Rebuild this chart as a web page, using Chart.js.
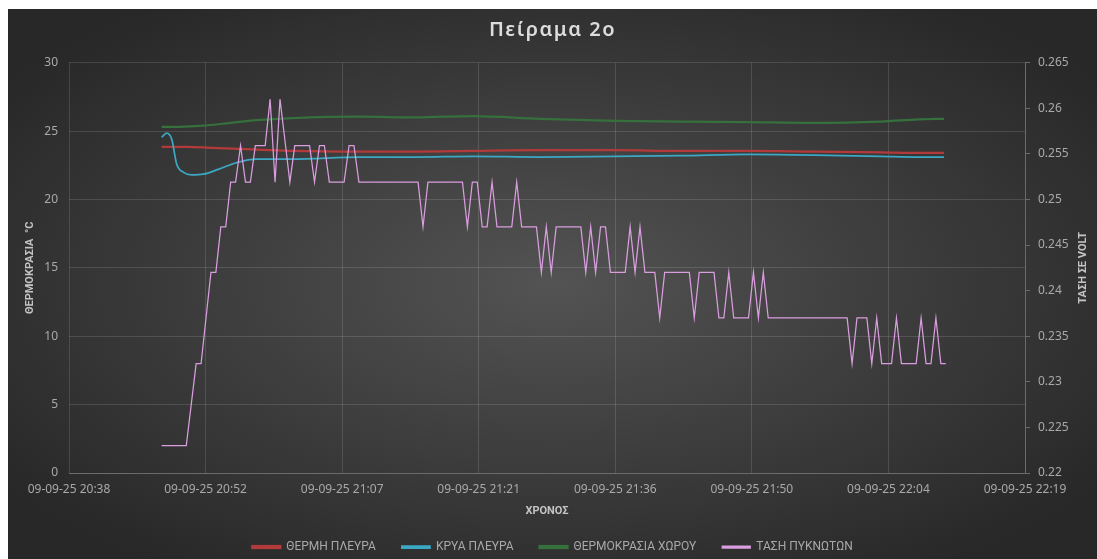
<!DOCTYPE html>
<html>
<head>
<meta charset="utf-8">
<script src="https://cdn.jsdelivr.net/npm/chart.js@4.4.1/dist/chart.umd.min.js"></script>
<style>
  html, body { margin: 0; padding: 0; background: #fff; }
  #wrap { position: absolute; left: 8px; top: 9px; width: 1089px; height: 550px; }
</style>
</head>
<body>
<div id="wrap"><canvas id="peirama2"></canvas></div>
<script>
var chartTitle = 'Πείραμα 2ο';
var dateLabel = '09-09-25';
var xTitle = 'ΧΡΟΝΟΣ';
var leftTitle = 'ΘΕΡΜΟΚΡΑΣΙΑ  °C';
var rightTitle = 'ΤΑΣΗ ΣΕ VOLT';
var seriesNames = ['ΘΕΡΜΗ ΠΛΕΥΡΑ', 'ΚΡΥΑ ΠΛΕΥΡΑ', 'ΘΕΡΜΟΚΡΑΣΙΑ ΧΩΡΟΥ', 'ΤΑΣΗ ΠΥΚΝΩΤΩΝ'];

// axis ticks
var xTicks = ['20:38:24', '20:52:48', '21:07:12', '21:21:36', '21:36:00', '21:50:24', '22:04:48', '22:19:12'];
var leftTicks = [0, 5, 10, 15, 20, 25, 30];
var rightTicks = [0.22, 0.225, 0.23, 0.235, 0.24, 0.245, 0.25, 0.255, 0.26, 0.265];

// temperatures (left axis)
var tempTimes = ['20:48:10', '20:48:42', '20:49:14', '20:49:45', '20:50:27', '20:51:20', '20:52:34', '20:54:08',
                 '20:56:05', '20:58:11', '21:02:01', '21:09:05', '21:15:00', '21:21:00', '21:28:00', '21:36:00',
                 '21:43:00', '21:50:00', '21:57:00', '22:04:00', '22:08:00', '22:10:40'];
var hotSide  = [23.85, 23.85, 23.85, 23.85, 23.85, 23.83, 23.8, 23.75, 23.7, 23.65, 23.55, 23.5, 23.5, 23.55,
                23.6, 23.6, 23.55, 23.55, 23.5, 23.45, 23.4, 23.4];
var coldSide = [24.55, 24.85, 24.4, 22.6, 22.0, 21.8, 21.85, 22.2, 22.7, 22.95, 22.95, 23.1, 23.1, 23.15,
                23.1, 23.15, 23.2, 23.3, 23.25, 23.15, 23.1, 23.1];
var roomTemp = [25.3, 25.3, 25.3, 25.3, 25.32, 25.35, 25.4, 25.5, 25.65, 25.8, 25.95, 26.05, 26.0, 26.1,
                25.9, 25.75, 25.7, 25.65, 25.6, 25.7, 25.85, 25.9];

// capacitor voltage (right axis), one reading every voltStepSec seconds
var voltStart = '20:48:10';
var voltStepSec = 31.2;
var voltage = [
  0.223, 0.223, 0.223, 0.223, 0.223, 0.223, 0.2275, 0.232, 0.232, 0.237,
  0.242, 0.242, 0.247, 0.247, 0.2519, 0.2519, 0.2559, 0.2519, 0.2519, 0.2559,
  0.2559, 0.2559, 0.261, 0.2519, 0.261, 0.2565, 0.2519, 0.2559, 0.2559, 0.2559,
  0.2559, 0.2519, 0.2559, 0.2559, 0.2519, 0.2519, 0.2519, 0.2519, 0.2559, 0.2559,
  0.2519, 0.2519, 0.2519, 0.2519, 0.2519, 0.2519, 0.2519, 0.2519, 0.2519, 0.2519,
  0.2519, 0.2519, 0.2519, 0.247, 0.2519, 0.2519, 0.2519, 0.2519, 0.2519, 0.2519,
  0.2519, 0.2519, 0.247, 0.2519, 0.2519, 0.247, 0.247, 0.2519, 0.247, 0.247,
  0.247, 0.247, 0.2519, 0.247, 0.247, 0.247, 0.247, 0.242, 0.247, 0.242,
  0.247, 0.247, 0.247, 0.247, 0.247, 0.247, 0.242, 0.247, 0.242, 0.247,
  0.247, 0.242, 0.242, 0.242, 0.242, 0.247, 0.242, 0.247, 0.242, 0.242,
  0.242, 0.237, 0.242, 0.242, 0.242, 0.242, 0.242, 0.242, 0.237, 0.242,
  0.242, 0.242, 0.242, 0.237, 0.237, 0.242, 0.237, 0.237, 0.237, 0.237,
  0.242, 0.237, 0.242, 0.237, 0.237, 0.237, 0.237, 0.237, 0.237, 0.237,
  0.237, 0.237, 0.237, 0.237, 0.237, 0.237, 0.237, 0.237, 0.237, 0.237,
  0.232, 0.237, 0.237, 0.237, 0.232, 0.237, 0.232, 0.232, 0.232, 0.237,
  0.232, 0.232, 0.232, 0.232, 0.237, 0.232, 0.232, 0.237, 0.232, 0.232
];

function toMin(t) {
  var p = t.split(':');
  return +p[0] * 60 + +p[1] + (+p[2] || 0) / 60;
}
function pts(times, vals) {
  return vals.map(function (v, i) { return { x: times[i], y: v }; });
}
var tempX = tempTimes.map(toMin);
var voltX = voltage.map(function (v, i) { return toMin(voltStart) + i * voltStepSec / 60; });

var tickColor = '#a9a9a9';
var gridColor = 'rgba(255,255,255,0.13)';

var bgPlugin = {
  id: 'bg',
  beforeDraw: function (chart) {
    var ctx = chart.ctx, w = chart.width, h = chart.height;
    ctx.save();
    ctx.translate(w / 2, h / 2);
    ctx.scale(1, h / w);
    var g = ctx.createRadialGradient(0, 0, 0, 0, 0, w * 0.62);
    g.addColorStop(0, '#535353');
    g.addColorStop(1, '#282828');
    ctx.fillStyle = g;
    ctx.fillRect(-w, -w, 2 * w, 2 * w);
    ctx.restore();
  },
  afterDraw: function (chart) {
    var ctx = chart.ctx, a = chart.chartArea;
    ctx.save();
    ctx.fillStyle = '#dcdcdc';
    ctx.font = '600 20px "Noto Sans"';
    ctx.letterSpacing = '1.5px';
    ctx.textAlign = 'center';
    ctx.textBaseline = 'middle';
    ctx.fillText(chartTitle, chart.width / 2, 21);
    ctx.letterSpacing = '0px';
    ctx.translate(1075, (a.top + a.bottom) / 2);
    ctx.rotate(-Math.PI / 2);
    ctx.fillStyle = '#c4c4c4';
    ctx.font = 'bold 11px Roboto';
    ctx.fillText(rightTitle, 0, 0);
    ctx.restore();
  }
};

var ctx = document.getElementById('peirama2').getContext('2d');
var chart = new Chart(ctx, {
  type: 'line',
  data: {
    datasets: [
      { label: seriesNames[0], data: pts(tempX, hotSide), yAxisID: 'y', borderColor: '#b33a3a', backgroundColor: '#b33a3a',
        borderWidth: 2.25, tension: 0.4, cubicInterpolationMode: 'monotone', order: 3 },
      { label: seriesNames[1], data: pts(tempX, coldSide), yAxisID: 'y', borderColor: '#3ba8c4', backgroundColor: '#3ba8c4',
        borderWidth: 1.75, tension: 0.4, cubicInterpolationMode: 'monotone', order: 2 },
      { label: seriesNames[2], data: pts(tempX, roomTemp), yAxisID: 'y', borderColor: '#35703d', backgroundColor: '#35703d',
        borderWidth: 2.25, tension: 0.4, cubicInterpolationMode: 'monotone', order: 4 },
      { label: seriesNames[3], data: pts(voltX, voltage), yAxisID: 'y1', borderColor: '#da9ddf', backgroundColor: '#da9ddf',
        borderWidth: 1.25, tension: 0, order: 1 }
    ]
  },
  options: {
    responsive: true,
    maintainAspectRatio: false,
    animation: false,
    layout: { padding: { top: 53.7, left: 0, right: 0, bottom: -4 } },
    elements: { point: { radius: 0 } },
    plugins: {
      title: { display: false },
      tooltip: { enabled: false },
      legend: {
        position: 'bottom',
        labels: {
          color: '#a9a9a9',
          font: { family: 'Roboto', size: 12 },
          boxWidth: 28,
          boxHeight: 2,
          padding: 26,
          sort: function (a, b) { return a.datasetIndex - b.datasetIndex; }
        }
      }
    },
    scales: {
      x: {
        type: 'linear',
        min: toMin(xTicks[0]),
        max: toMin(xTicks[xTicks.length - 1]),
        afterBuildTicks: function (s) { s.ticks = xTicks.map(function (t) { return { value: toMin(t) }; }); },
        afterFit: function (s) { s.height = 42; },
        ticks: {
          color: tickColor,
          font: { family: 'Noto Sans', size: 12 },
          padding: 9,
          maxRotation: 0,
          autoSkip: false,
          callback: function (v, i) { return dateLabel + ' ' + xTicks[i].slice(0, 5); }
        },
        grid: { color: gridColor, drawTicks: false },
        border: { color: '#6b6b6b' },
        title: { display: true, text: xTitle, color: '#c4c4c4', font: { family: 'Roboto', size: 11, weight: 'bold' },
                 padding: { top: 0, bottom: -2.6 } }
      },
      y: {
        position: 'left',
        min: 0,
        max: 30,
        afterBuildTicks: function (s) { s.ticks = leftTicks.map(function (v) { return { value: v }; }); },
        afterFit: function (s) { s.width = 61; },
        ticks: { color: tickColor, font: { family: 'Noto Sans', size: 12 }, padding: 11 },
        grid: { color: gridColor, drawTicks: false },
        border: { display: false },
        title: { display: true, text: leftTitle, color: '#c4c4c4', font: { family: 'Roboto', size: 11, weight: 'bold' },
                 padding: { top: 15.4, bottom: 0 } }
      },
      y1: {
        position: 'right',
        min: 0.22,
        max: 0.265,
        afterBuildTicks: function (s) { s.ticks = rightTicks.map(function (v) { return { value: v }; }); },
        afterFit: function (s) { s.width = 72; },
        ticks: { color: tickColor, font: { family: 'Noto Sans', size: 12 }, padding: 8,
                 callback: function (v) { return String(+v.toFixed(3)); } },
        grid: { drawOnChartArea: false, drawTicks: true, tickLength: 5, color: '#6b6b6b' },
        border: { display: true, color: '#6b6b6b' }
      }
    }
  },
  plugins: [bgPlugin]
});
</script>
</body>
</html>
